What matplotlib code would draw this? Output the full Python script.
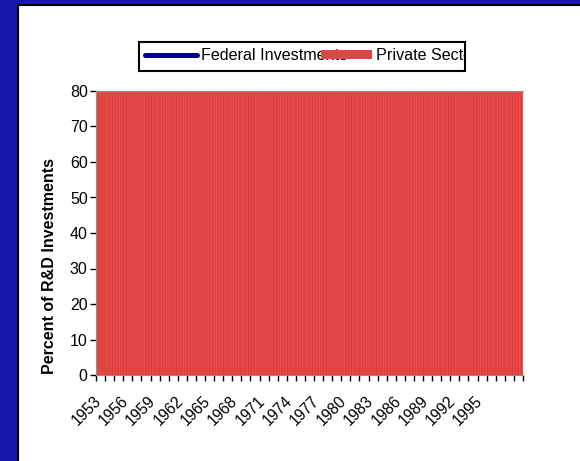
import matplotlib
matplotlib.use('Agg')
import matplotlib.pyplot as plt
from matplotlib.patches import Rectangle, Patch
from matplotlib.lines import Line2D
from matplotlib.transforms import Bbox, ScaledTranslation

plt.rcParams['font.family'] = ['Liberation Sans', 'DejaVu Sans']
plt.rcParams['hatch.linewidth'] = 0.6

years = list(range(1953, 2000))
# private sector share runs off the top of the 0-80 axis in every year
private = [100, 100, 100, 100, 100, 100, 100, 100, 100, 100,
           100, 100, 100, 100, 100, 100, 100, 100, 100, 100,
           100, 100, 100, 100, 100, 100, 100, 100, 100, 100,
           100, 100, 100, 100, 100, 100, 100, 100, 100, 100,
           100, 100, 100, 100, 100, 100, 100]
label_years = years[::3][:15]
yticks = [0, 10, 20, 30, 40, 50, 60, 70, 80]

W, H = 580, 461
fig = plt.figure(figsize=(5.8, 4.61), dpi=100, facecolor='#1818AA')

# white slide panel with dark edge on the left/top
fig.patches.append(Rectangle((18 / W, -0.1), 1.2, (461 - 5) / H + 0.1,
                             transform=fig.transFigure, facecolor='white',
                             edgecolor='black', linewidth=1.5, zorder=-5))

ax = fig.add_axes([96 / W, 1 - 375 / H, (523 - 96) / W, (375 - 91) / H])
ax.set_facecolor('none')

x = list(range(len(years)))
ax.bar(x, private, width=1.0, color='#E84848', edgecolor='#D53E3E',
       hatch='||||||', linewidth=0, zorder=2)

ax.set_xlim(-0.5, len(years) - 0.5)
ax.set_ylim(0, 80)

ax.set_yticks(yticks)
ax.set_yticklabels([str(v) for v in yticks], fontsize=11.5)
ax.tick_params(axis='y', length=4, width=1, color='black', pad=2)

ax.set_xticks([years.index(y) for y in label_years])
ax.set_xticklabels([str(y) for y in label_years], rotation=45, ha='right',
                   rotation_mode='anchor', fontsize=11.2)
ax.set_xticks([i - 0.5 for i in range(len(years) + 1)], minor=True)
ax.tick_params(axis='x', which='major', length=0, pad=13)
ax.tick_params(axis='x', which='minor', length=4, width=1, color='black')
shift = ScaledTranslation(-7 / 100, 0, fig.dpi_scale_trans)
for lab in ax.get_xticklabels():
    lab.set_transform(lab.get_transform() + shift)

for s in ['top', 'bottom', 'left']:
    ax.spines[s].set_color('#909090')
    ax.spines[s].set_zorder(3)
ax.spines['right'].set_visible(False)

ax.set_ylabel('Percent of R&D Investments', fontsize=11.5, fontweight='bold')
ax.yaxis.set_label_coords(-0.092, 0.385)

# legend (text runs past the box edge, as in the original)
handles = [Line2D([], [], color='#000090', linewidth=3.6, solid_capstyle='round'),
           Patch(facecolor='#E84848', edgecolor='#D53E3E', hatch='||||||', linewidth=0)]
leg = fig.legend(handles, ['Federal Investments', 'Private Sector'], ncol=2,
                 loc='upper left', bbox_to_anchor=(139 / W, 1 - 42 / H),
                 frameon=False, fontsize=11.6, handlelength=3.2, handletextpad=0.25,
                 handleheight=0.55, columnspacing=-1.62, borderpad=0.38,
                 borderaxespad=0)
box = Rectangle((139 / W, 1 - 71 / H), (465 - 139) / W, 29 / H,
                transform=fig.transFigure, facecolor='none',
                edgecolor='black', linewidth=1.5, zorder=5)
fig.patches.append(box)
clip = Bbox.from_extents(139, 0, 465, H)
for t in leg.get_texts():
    t.set_clip_box(clip)

fig.savefig('out.png', dpi=100, facecolor=fig.get_facecolor())
